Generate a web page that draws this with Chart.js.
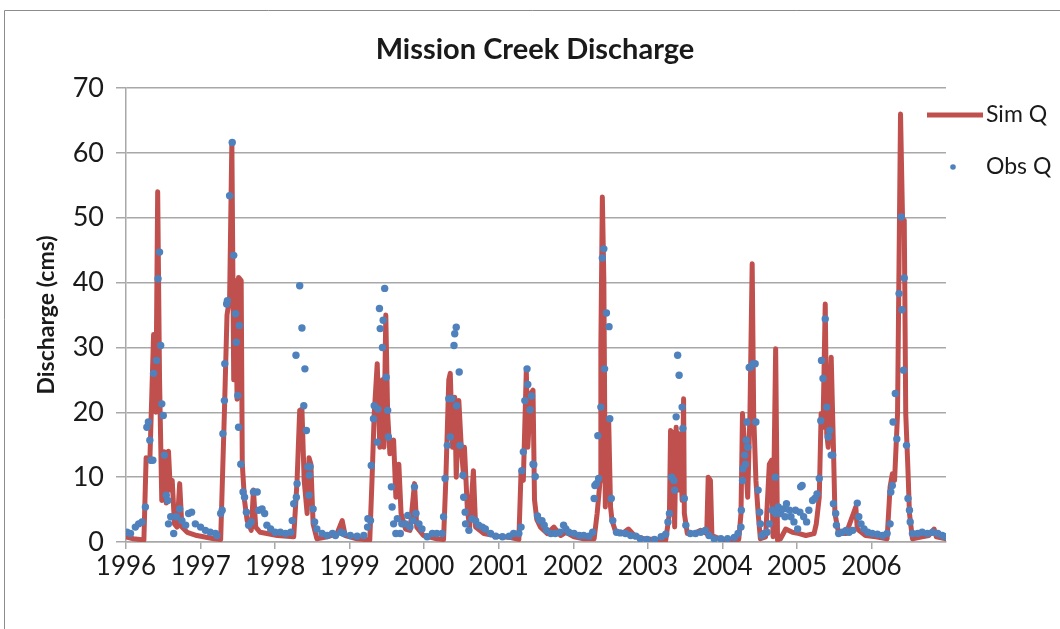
<!DOCTYPE html>
<html>
<head>
<meta charset="utf-8">
<script src="https://cdn.jsdelivr.net/npm/chart.js@4.4.1/dist/chart.umd.min.js"></script>
<style>
  html, body { margin: 0; padding: 0; background: #fff; }
  #wrap { width: 1060px; height: 629px; position: relative; }
</style>
</head>
<body>
<div id="wrap"><canvas id="chart" width="1060" height="629"></canvas></div>
<script>
// x axis labels (years)
const yearTicks = [1996, 1997, 1998, 1999, 2000, 2001, 2002, 2003, 2004, 2005, 2006];

// Sim Q: decimal year / discharge (cms)
const simT = [
  1996.00, 1996.10, 1996.24, 1996.27, 1996.32, 1996.37, 1996.40, 1996.425, 1996.45, 1996.48,
  1996.515, 1996.54, 1996.57, 1996.595, 1996.62, 1996.65, 1996.685, 1996.72, 1996.75, 1996.82,
  1996.95, 1997.18, 1997.27, 1997.32, 1997.355, 1997.39, 1997.42, 1997.445, 1997.47, 1997.49,
  1997.51, 1997.545, 1997.56, 1997.59, 1997.625, 1997.68, 1997.71, 1997.74, 1997.80, 1997.89,
  1998.03, 1998.16, 1998.25, 1998.295, 1998.33, 1998.36, 1998.39, 1998.43, 1998.455, 1998.48,
  1998.51, 1998.56, 1998.70, 1998.83, 1998.90, 1998.94, 1999.10, 1999.27, 1999.30, 1999.33,
  1999.37, 1999.405, 1999.44, 1999.46, 1999.485, 1999.51, 1999.54, 1999.59, 1999.62, 1999.66,
  1999.69, 1999.75, 1999.81, 1999.87, 1999.90, 1999.99, 2000.17, 2000.26, 2000.29, 2000.33,
  2000.35, 2000.38, 2000.41, 2000.43, 2000.465, 2000.50, 2000.53, 2000.54, 2000.58, 2000.61,
  2000.66, 2000.69, 2000.80, 2000.98, 2001.16, 2001.27, 2001.30, 2001.33, 2001.37, 2001.39,
  2001.43, 2001.46, 2001.48, 2001.51, 2001.56, 2001.65, 2001.74, 2001.83, 2001.90, 2002.01,
  2002.14, 2002.28, 2002.32, 2002.36, 2002.37, 2002.39, 2002.41, 2002.43, 2002.45, 2002.475,
  2002.50, 2002.52, 2002.57, 2002.66, 2002.74, 2002.82, 2002.95, 2003.09, 2003.24, 2003.29,
  2003.305, 2003.34, 2003.36, 2003.38, 2003.41, 2003.43, 2003.46, 2003.48, 2003.49, 2003.53,
  2003.62, 2003.71, 2003.79, 2003.81, 2003.84, 2003.86, 2003.98, 2004.11, 2004.22, 2004.25,
  2004.27, 2004.30, 2004.34, 2004.37, 2004.40, 2004.42, 2004.45, 2004.48, 2004.51, 2004.58,
  2004.63, 2004.66, 2004.68, 2004.715, 2004.74, 2004.78, 2004.85, 2004.94, 2005.03, 2005.12,
  2005.23, 2005.26, 2005.30, 2005.325, 2005.35, 2005.38, 2005.40, 2005.42, 2005.46, 2005.49,
  2005.51, 2005.56, 2005.66, 2005.79, 2005.81, 2005.92, 2006.06, 2006.21, 2006.25, 2006.28,
  2006.31, 2006.35, 2006.37, 2006.39, 2006.42, 2006.44, 2006.46, 2006.49, 2006.51, 2006.55,
  2006.68, 2006.77, 2006.84, 2006.87, 2007.00
];
const simQ = [
  0.8, 0.5, 0.3, 13, 12.5, 32, 20, 54, 25, 6.4,
  13.9, 6, 14, 8, 9.5, 2.8, 2.3, 9, 2.3, 1.5,
  1, 0.5, 0.4, 20, 35, 37.7, 61.6, 25, 40.3, 22,
  40.8, 40.3, 12, 6.4, 3.3, 1.8, 8, 2.3, 1.5, 1.3,
  1, 0.9, 0.8, 9.5, 20.3, 20.5, 9.5, 4.4, 13, 12,
  2.8, 0.5, 0.8, 1.3, 3.3, 1, 0.5, 0.3, 9.5, 19.8,
  27.5, 14.6, 25, 14.6, 35, 19.8, 13.6, 15.7, 6.9, 12,
  4.4, 2, 1.8, 9, 2.3, 1, 0.5, 0.4, 9.5, 25,
  26, 14.6, 22.3, 10, 21.8, 14.1, 10, 14.6, 4.9, 2.3,
  11, 2.3, 1.3, 0.9, 0.7, 0.4, 11, 9.5, 26.5, 14.6,
  22.9, 23.4, 6.5, 3.5, 2.3, 1.3, 2.3, 1, 1.5, 0.8,
  0.5, 0.5, 4.4, 9.5, 30, 53.2, 40.5, 5.4, 17.2, 18.7,
  5.4, 3.3, 1.5, 1.3, 2, 1, 0.5, 0.4, 0.3, 4.4,
  17.2, 16.7, 2.3, 17.7, 8, 16.7, 6.4, 22.1, 4.4, 1.3,
  1.3, 1.8, 1.3, 10, 9.5, 1, 0.4, 0.3, 0.4, 4.4,
  19.8, 14.6, 6.9, 19.8, 42.9, 19.8, 9.5, 4.4, 0.5, 0.8,
  12, 12.6, 0.8, 29.8, 0.3, 0.5, 2, 1.5, 1.3, 1,
  1.3, 2.8, 6.9, 19.8, 17.7, 36.7, 16.7, 14.6, 28.5, 14.6,
  4.4, 1.3, 1.3, 5.4, 2, 1, 0.8, 0.5, 8.5, 10.5,
  9.5, 19.8, 42.9, 66, 48, 49.6, 19.8, 11, 4.4, 0.5,
  0.8, 1, 2, 0.8, 0.5
];

// Obs Q: decimal year / discharge (cms)
const obsT = [
  1996.013, 1996.06, 1996.125, 1996.17, 1996.215, 1996.26, 1996.28, 1996.30, 1996.32, 1996.335,
  1996.36, 1996.37, 1996.41, 1996.43, 1996.45, 1996.465, 1996.48, 1996.50, 1996.515, 1996.54,
  1996.56, 1996.57, 1996.60, 1996.64, 1996.675, 1996.72, 1996.75, 1996.80, 1996.84, 1996.88,
  1996.93, 1997.00, 1997.065, 1997.13, 1997.20, 1997.22, 1997.27, 1997.29, 1997.30, 1997.32,
  1997.325, 1997.35, 1997.36, 1997.39, 1997.425, 1997.445, 1997.47, 1997.48, 1997.50, 1997.51,
  1997.52, 1997.54, 1997.57, 1997.59, 1997.615, 1997.645, 1997.68, 1997.71, 1997.76, 1997.78,
  1997.825, 1997.86, 1997.89, 1997.94, 1998.00, 1998.07, 1998.14, 1998.21, 1998.23, 1998.25,
  1998.28, 1998.285, 1998.295, 1998.33, 1998.36, 1998.385, 1998.40, 1998.42, 1998.44, 1998.455,
  1998.46, 1998.47, 1998.51, 1998.53, 1998.56, 1998.63, 1998.70, 1998.77, 1998.81, 1998.88,
  1998.92, 1999.01, 1999.10, 1999.19, 1999.24, 1999.245, 1999.28, 1999.29, 1999.32, 1999.33,
  1999.37, 1999.38, 1999.40, 1999.41, 1999.44, 1999.45, 1999.47, 1999.49, 1999.51, 1999.52,
  1999.56, 1999.57, 1999.59, 1999.62, 1999.64, 1999.68, 1999.70, 1999.75, 1999.78, 1999.81,
  1999.85, 1999.87, 1999.89, 1999.93, 1999.97, 2000.04, 2000.11, 2000.17, 2000.24, 2000.26,
  2000.28, 2000.31, 2000.33, 2000.35, 2000.37, 2000.40, 2000.41, 2000.43, 2000.435, 2000.47,
  2000.48, 2000.52, 2000.53, 2000.55, 2000.555, 2000.60, 2000.64, 2000.69, 2000.73, 2000.78,
  2000.82, 2000.89, 2000.96, 2001.05, 2001.14, 2001.20, 2001.27, 2001.30, 2001.31, 2001.33,
  2001.35, 2001.38, 2001.39, 2001.42, 2001.44, 2001.46, 2001.47, 2001.49, 2001.52, 2001.55,
  2001.58, 2001.61, 2001.64, 2001.70, 2001.76, 2001.82, 2001.87, 2001.90, 2001.94, 2002.01,
  2002.08, 2002.14, 2002.21, 2002.26, 2002.28, 2002.29, 2002.31, 2002.33, 2002.34, 2002.37,
  2002.39, 2002.41, 2002.42, 2002.445, 2002.48, 2002.49, 2002.51, 2002.53, 2002.58, 2002.63,
  2002.70, 2002.77, 2002.84, 2002.90, 2002.99, 2003.09, 2003.18, 2003.24, 2003.27, 2003.29,
  2003.32, 2003.35, 2003.36, 2003.38, 2003.40, 2003.42, 2003.46, 2003.47, 2003.49, 2003.51,
  2003.57, 2003.64, 2003.71, 2003.77, 2003.82, 2003.89, 2003.98, 2004.07, 2004.16, 2004.21,
  2004.25, 2004.255, 2004.27, 2004.275, 2004.30, 2004.31, 2004.32, 2004.33, 2004.34, 2004.36,
  2004.38, 2004.41, 2004.44, 2004.45, 2004.48, 2004.50, 2004.51, 2004.53, 2004.56, 2004.60,
  2004.63, 2004.67, 2004.71, 2004.715, 2004.75, 2004.78, 2004.82, 2004.84, 2004.86, 2004.90,
  2004.92, 2004.96, 2004.98, 2005.01, 2005.04, 2005.05, 2005.07, 2005.09, 2005.13, 2005.16,
  2005.21, 2005.24, 2005.27, 2005.30, 2005.32, 2005.33, 2005.35, 2005.38, 2005.40, 2005.42,
  2005.44, 2005.46, 2005.48, 2005.49, 2005.52, 2005.53, 2005.56, 2005.61, 2005.66, 2005.70,
  2005.75, 2005.81, 2005.83, 2005.86, 2005.90, 2005.95, 2006.01, 2006.08, 2006.15, 2006.21,
  2006.25, 2006.26, 2006.28, 2006.29, 2006.32, 2006.34, 2006.37, 2006.40, 2006.41, 2006.43,
  2006.44, 2006.47, 2006.49, 2006.51, 2006.52, 2006.55, 2006.62, 2006.68, 2006.75, 2006.82,
  2006.89, 2006.95, 2007.00
];
const obsQ = [
  1.5, 1.3, 2.3, 2.8, 3.1, 5.4, 17.7, 18.5, 15.7, 12.6,
  12.6, 26, 28, 40.6, 44.7, 30.3, 21.3, 19.5, 13.4, 7.2,
  6.4, 2.8, 3.9, 1.3, 3.9, 5.1, 3.3, 2.6, 4.4, 4.6,
  2.8, 2.3, 1.8, 1.5, 1.3, 1, 4.4, 4.9, 16.7, 21.8,
  27.5, 36.7, 37.2, 53.4, 61.6, 44.2, 35.2, 30.8, 22.6, 17.7,
  33.4, 12, 7.7, 6.9, 4.6, 2.6, 3.1, 7.7, 7.7, 4.9,
  5.1, 4.4, 2.6, 2, 1.5, 1.5, 1.3, 1.5, 3.3, 5.9,
  28.8, 6.9, 9, 39.5, 33, 21, 26.7, 17.2, 11.6, 7.2,
  10.3, 11.6, 5.1, 3.1, 2, 1.3, 1, 1.3, 1, 1.5,
  1.3, 1, 0.9, 1, 2.3, 3.6, 3.3, 11.8, 19, 21,
  15.4, 20.5, 36, 32.9, 30, 34.2, 39.1, 25.4, 20.3, 16.2,
  8.5, 5.4, 2.8, 1.3, 3.6, 1.3, 2.8, 2.8, 4.1, 2.3,
  3.3, 8.5, 4.4, 2.8, 2, 0.8, 1.3, 1.3, 1.3, 3.9,
  9.8, 14.9, 22.1, 16.2, 22.1, 30.3, 32.1, 33.1, 21, 26.2,
  14.9, 10.3, 6.9, 4.6, 2.8, 1.8, 3.6, 3.3, 2.6, 2.3,
  2, 1.3, 0.9, 0.8, 0.9, 1.3, 1.3, 2.3, 11, 13.9,
  21.8, 26.7, 24.3, 20.4, 22.5, 12, 11.9, 10.1, 4, 3.3,
  3.3, 2.6, 1.8, 1.3, 1.3, 1.5, 2.6, 2, 1.5, 1.3,
  1, 1, 0.9, 1.5, 6.7, 8.7, 9, 16.4, 9.8, 20.8,
  43.8, 45.2, 26.7, 35.3, 33.2, 19, 6.7, 3.3, 1.5, 1.4,
  1.3, 1, 0.9, 0.5, 0.4, 0.4, 0.8, 1.2, 3.1, 4.4,
  10, 9.5, 8, 19.3, 28.8, 25.7, 20.8, 17.5, 6.7, 2.6,
  1.3, 1.3, 1.5, 1.8, 1, 0.5, 0.5, 0.5, 0.7, 1.3,
  2.3, 4.9, 9.5, 11.3, 13.4, 12, 15.7, 18.5, 14.6, 26.9,
  27, 27.5, 27.5, 18.5, 8, 4.6, 2.8, 1, 1.3, 1.5,
  2.8, 4.9, 10, 4.4, 5.4, 4.4, 5.1, 3.9, 5.9, 4.9,
  3.9, 3.1, 4.9, 2, 4.6, 8.5, 8.7, 3.9, 3.1, 4.9,
  6.4, 6.7, 7.4, 9.8, 18.7, 28, 25.2, 34.4, 20.8, 16.2,
  17.2, 13.4, 13.4, 5.9, 4.4, 2.6, 1.3, 1.5, 1.8, 1.5,
  1.8, 6, 3.9, 2.8, 2, 1.5, 1.3, 1.2, 1, 1.3,
  2.8, 7.7, 8.7, 18.5, 22.9, 15.9, 38.3, 50.1, 35.8, 26.5,
  40.7, 14.9, 6.7, 4.9, 3.1, 1.3, 1.3, 1.5, 1.3, 1.5,
  1.3, 1, 0.8
];

const simColor = '#c0504d';
const obsColor = '#4f81bd';
const gridColor = '#a8a8a8';
const textColor = '#1a1a1a';
const fontFamily = 'Lato, "Open Sans", sans-serif';

// title, legend and outer frame
const decorations = {
  id: 'decorations',
  beforeDraw(chart) {
    const ctx = chart.ctx;
    ctx.save();
    ctx.fillStyle = '#fff';
    ctx.fillRect(0, 0, chart.width, chart.height);
    ctx.strokeStyle = '#8c8c8c';
    ctx.lineWidth = 1;
    ctx.beginPath();
    ctx.moveTo(4.5, 629);
    ctx.lineTo(4.5, 10.5);
    ctx.lineTo(1060, 10.5);
    ctx.stroke();
    ctx.restore();
  },
  afterDraw(chart) {
    const ctx = chart.ctx;
    ctx.save();
    ctx.fillStyle = textColor;
    ctx.font = 'bold 29px ' + fontFamily;
    ctx.textAlign = 'center';
    ctx.textBaseline = 'middle';
    ctx.fillText('Mission Creek Discharge', 535, 50);

    ctx.font = '23px ' + fontFamily;
    ctx.textAlign = 'left';
    ctx.strokeStyle = simColor;
    ctx.lineWidth = 5;
    ctx.beginPath();
    ctx.moveTo(927, 115);
    ctx.lineTo(983, 115);
    ctx.stroke();
    ctx.fillText('Sim Q', 986, 115);

    ctx.fillStyle = obsColor;
    ctx.beginPath();
    ctx.arc(953, 167, 2.8, 0, Math.PI * 2);
    ctx.fill();
    ctx.fillStyle = textColor;
    ctx.fillText('Obs Q', 986, 167);
    ctx.restore();
  }
};

const data = {
  datasets: [
    {
      label: 'Obs Q',
      type: 'scatter',
      data: obsT.map((t, i) => ({ x: t, y: obsQ[i] })),
      backgroundColor: obsColor,
      borderWidth: 0,
      pointRadius: 3.7,
      pointHoverRadius: 3.7
    },
    {
      label: 'Sim Q',
      type: 'line',
      data: simT.map((t, i) => ({ x: t, y: simQ[i] })),
      borderColor: simColor,
      backgroundColor: simColor,
      borderWidth: 5,
      borderJoinStyle: 'round',
      borderCapStyle: 'round',
      pointRadius: 0,
      tension: 0
    }
  ]
};

const config = {
  type: 'scatter',
  data: data,
  options: {
    responsive: false,
    animation: false,
    events: [],
    layout: { padding: { top: 88, right: 114, bottom: 27, left: 0 } },
    plugins: {
      legend: { display: false },
      title: { display: false },
      tooltip: { enabled: false }
    },
    scales: {
      x: {
        type: 'linear',
        min: 1996,
        max: 2007,
        afterBuildTicks: scale => { scale.ticks = yearTicks.map(v => ({ value: v })); },
        afterFit: scale => { scale.height = 60; },
        grid: { drawOnChartArea: false, color: gridColor, lineWidth: 1.5, tickLength: 7 },
        border: { color: gridColor, width: 1.5 },
        ticks: {
          autoSkip: false,
          maxRotation: 0,
          padding: 2,
          color: textColor,
          font: { family: fontFamily, size: 26 },
          callback: v => String(v)
        }
      },
      y: {
        min: 0,
        max: 70,
        afterFit: scale => { scale.width = 126; },
        grid: { color: gridColor, lineWidth: 1.5, tickLength: 10 },
        border: { color: gridColor, width: 1.5 },
        ticks: {
          stepSize: 10,
          padding: 12,
          color: textColor,
          font: { family: fontFamily, size: 27 }
        },
        title: {
          display: true,
          text: 'Discharge (cms)',
          color: textColor,
          font: { family: fontFamily, size: 23, weight: 'bold' },
          padding: { top: 33, bottom: 0 }
        }
      }
    }
  },
  plugins: [decorations]
};

new Chart(document.getElementById('chart'), config);
</script>
</body>
</html>
